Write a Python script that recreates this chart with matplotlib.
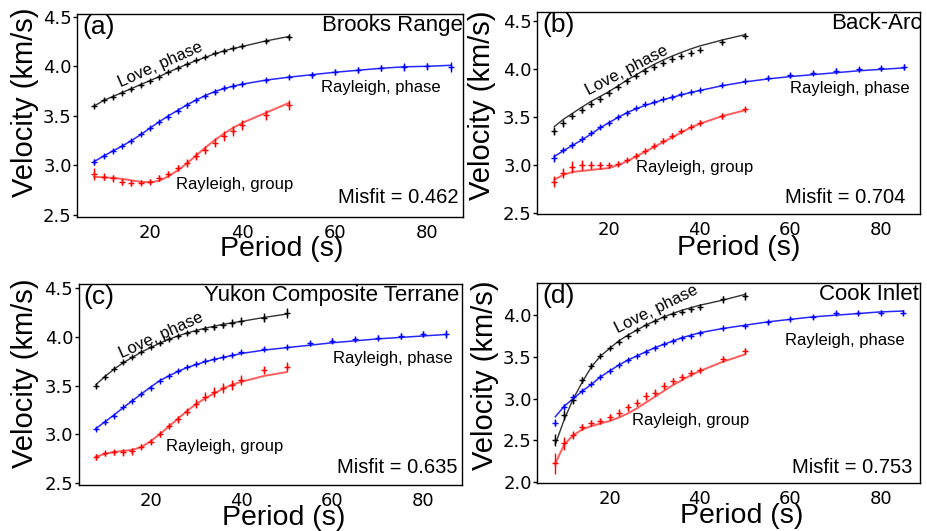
import matplotlib
matplotlib.use('Agg')
import matplotlib.pyplot as plt

# periods (s)
per_short = [8, 10, 12, 14, 16, 18, 20, 22, 24, 26, 28, 30, 32, 34, 36, 38, 40, 45, 50]
per_long = per_short + [55, 60, 65, 70, 75, 80, 85]

# ---------------- (a) Brooks Range ----------------
a_love = [3.60, 3.657, 3.69, 3.728, 3.77, 3.81, 3.85, 3.896, 3.943, 3.983, 4.023, 4.06, 4.097,
          4.13, 4.158, 4.181, 4.201, 4.258, 4.295]
a_love_err = [0.02, 0.02, 0.015, 0.015, 0.015, 0.015, 0.015, 0.015, 0.015, 0.015, 0.015, 0.015,
              0.015, 0.015, 0.015, 0.015, 0.02, 0.02, 0.03]
a_love_mod = [3.60, 3.655, 3.695, 3.735, 3.775, 3.815, 3.855, 3.895, 3.94, 3.98, 4.02, 4.057,
              4.09, 4.125, 4.155, 4.18, 4.2, 4.255, 4.30]
a_rp = [3.039, 3.096, 3.146, 3.197, 3.25, 3.314, 3.375, 3.439, 3.489, 3.55, 3.607, 3.66, 3.704,
        3.744, 3.781, 3.802, 3.825, 3.862, 3.892, 3.909, 3.946, 3.966, 3.98, 3.996, 4.0, 3.993]
a_rp_err = [0.03, 0.02, 0.02, 0.015, 0.02, 0.02, 0.02, 0.02, 0.025, 0.025, 0.025, 0.02, 0.02,
            0.025, 0.025, 0.025, 0.025, 0.02, 0.02, 0.03, 0.03, 0.03, 0.03, 0.04, 0.035, 0.05]
a_rp_mod = [3.04, 3.095, 3.145, 3.195, 3.25, 3.31, 3.375, 3.44, 3.5, 3.555, 3.61, 3.66, 3.705,
            3.745, 3.775, 3.8, 3.82, 3.86, 3.89, 3.915, 3.94, 3.96, 3.98, 3.995, 4.0, 4.01]
a_rg = [2.914, 2.888, 2.871, 2.837, 2.824, 2.827, 2.837, 2.871, 2.914, 2.972, 3.022, 3.092, 3.156,
        3.23, 3.297, 3.351, 3.408, 3.509, 3.613]
a_rg_err = [0.06, 0.035, 0.035, 0.03, 0.03, 0.025, 0.025, 0.03, 0.035, 0.03, 0.04, 0.04, 0.04,
            0.045, 0.05, 0.05, 0.05, 0.05, 0.05]
a_rg_mod = [2.885, 2.88, 2.875, 2.865, 2.85, 2.835, 2.83, 2.845, 2.89, 2.95, 3.02, 3.1, 3.18,
            3.255, 3.32, 3.38, 3.43, 3.53, 3.63]

# ---------------- (b) Back-Arc ----------------
b_love = [3.355, 3.434, 3.51, 3.573, 3.632, 3.69, 3.746, 3.808, 3.875, 3.93, 3.975, 4.02, 4.06,
          4.1, 4.135, 4.165, 4.2, 4.275, 4.345]
b_love_err = [0.04, 0.035, 0.035, 0.03, 0.03, 0.03, 0.03, 0.03, 0.03, 0.03, 0.03, 0.03, 0.03,
              0.03, 0.03, 0.03, 0.03, 0.025, 0.025]
b_love_mod = [3.40, 3.476, 3.538, 3.60, 3.66, 3.711, 3.763, 3.822, 3.884, 3.936, 3.995, 4.047,
              4.092, 4.134, 4.171, 4.206, 4.237, 4.30, 4.355]
b_rp = [3.071, 3.157, 3.209, 3.268, 3.33, 3.393, 3.441, 3.497, 3.545, 3.59, 3.635, 3.659, 3.687,
        3.711, 3.735, 3.76, 3.78, 3.829, 3.87, 3.905, 3.935, 3.957, 3.981, 3.995, 4.005, 4.02]
b_rp_err = [0.04, 0.025, 0.03, 0.03, 0.02, 0.02, 0.02, 0.02, 0.02, 0.015, 0.015, 0.015, 0.015,
            0.015, 0.015, 0.015, 0.015, 0.015, 0.015, 0.02, 0.025, 0.025, 0.025, 0.025, 0.025, 0.03]
b_rp_mod = [3.09, 3.15, 3.205, 3.26, 3.32, 3.385, 3.44, 3.495, 3.545, 3.585, 3.62, 3.65, 3.68,
            3.705, 3.73, 3.755, 3.775, 3.825, 3.865, 3.895, 3.92, 3.94, 3.96, 3.98, 3.995, 4.01]
b_rg = [2.829, 2.922, 2.984, 3.0, 3.0, 3.0, 3.0, 3.015, 3.054, 3.099, 3.147, 3.202, 3.254, 3.306,
        3.354, 3.40, 3.441, 3.514, 3.58]
b_rg_err = [0.06, 0.05, 0.06, 0.05, 0.04, 0.035, 0.025, 0.025, 0.025, 0.025, 0.03, 0.025, 0.025,
            0.025, 0.025, 0.025, 0.025, 0.03, 0.025]
b_rg_mod = [2.85, 2.90, 2.93, 2.94, 2.95, 2.96, 2.97, 3.0, 3.04, 3.09, 3.14, 3.19, 3.24, 3.29,
            3.34, 3.39, 3.43, 3.51, 3.57]

# ---------------- (c) Yukon Composite Terrane ----------------
c_love = [3.50, 3.593, 3.675, 3.74, 3.791, 3.849, 3.90, 3.935, 3.976, 4.01, 4.037, 4.061, 4.085,
          4.106, 4.123, 4.14, 4.167, 4.198, 4.243]
c_love_err = [0.025, 0.02, 0.015, 0.015, 0.015, 0.015, 0.015, 0.02, 0.02, 0.02, 0.02, 0.025,
              0.025, 0.03, 0.03, 0.04, 0.04, 0.045, 0.05]
c_love_mod = [3.51, 3.595, 3.67, 3.735, 3.79, 3.845, 3.89, 3.935, 3.975, 4.01, 4.04, 4.065, 4.09,
              4.11, 4.13, 4.145, 4.16, 4.2, 4.235]
c_rp = [3.056, 3.125, 3.193, 3.278, 3.347, 3.412, 3.48, 3.549, 3.60, 3.651, 3.696, 3.723, 3.757,
        3.771, 3.798, 3.819, 3.843, 3.877, 3.901, 3.935, 3.962, 3.976, 3.993, 4.01, 4.031, 4.031]
c_rp_err = [0.015, 0.015, 0.015, 0.015, 0.015, 0.015, 0.015, 0.015, 0.015, 0.015, 0.015, 0.015,
            0.015, 0.015, 0.015, 0.015, 0.015, 0.02, 0.02, 0.025, 0.025, 0.025, 0.025, 0.03, 0.03, 0.04]
c_rp_mod = [3.06, 3.13, 3.2, 3.275, 3.345, 3.415, 3.485, 3.55, 3.6, 3.645, 3.685, 3.715, 3.745,
            3.77, 3.79, 3.81, 3.83, 3.865, 3.89, 3.915, 3.94, 3.96, 3.98, 3.995, 4.01, 4.025]
c_rg = [2.766, 2.807, 2.814, 2.814, 2.824, 2.875, 2.926, 3.002, 3.087, 3.155, 3.234, 3.313, 3.388,
        3.432, 3.473, 3.508, 3.559, 3.661, 3.696]
c_rg_err = [0.03, 0.025, 0.03, 0.035, 0.035, 0.03, 0.025, 0.03, 0.03, 0.035, 0.04, 0.045, 0.045,
            0.05, 0.05, 0.05, 0.05, 0.045, 0.05]
c_rg_mod = [2.77, 2.80, 2.82, 2.83, 2.84, 2.87, 2.93, 3.0, 3.08, 3.16, 3.24, 3.31, 3.37, 3.42,
            3.47, 3.51, 3.54, 3.60, 3.64]

# ---------------- (d) Cook Inlet ----------------
d_love = [2.502, 2.802, 2.982, 3.222, 3.394, 3.51, 3.602, 3.682, 3.75, 3.822, 3.882, 3.934, 3.974,
          4.014, 4.042, 4.07, 4.094, 4.19, 4.23]
d_love_err = [0.07, 0.06, 0.05, 0.035, 0.03, 0.025, 0.025, 0.025, 0.025, 0.025, 0.025, 0.025,
              0.025, 0.025, 0.025, 0.03, 0.035, 0.04, 0.05]
d_love_mod = [2.45, 2.75, 3.0, 3.2, 3.38, 3.51, 3.60, 3.69, 3.76, 3.82, 3.88, 3.93, 3.98, 4.02,
              4.06, 4.09, 4.12, 4.18, 4.25]
d_rp = [2.71, 2.902, 3.014, 3.094, 3.17, 3.262, 3.334, 3.398, 3.458, 3.514, 3.558, 3.61, 3.654,
        3.694, 3.726, 3.754, 3.79, 3.842, 3.874, 3.914, 3.958, 3.982, 4.022, 4.022, 4.03, 4.03]
d_rp_err = [0.04, 0.03, 0.025, 0.02, 0.02, 0.02, 0.02, 0.02, 0.02, 0.02, 0.02, 0.02, 0.015,
            0.015, 0.015, 0.015, 0.015, 0.015, 0.02, 0.025, 0.025, 0.025, 0.025, 0.025, 0.03, 0.03]
d_rp_mod = [2.78, 2.91, 3.0, 3.09, 3.17, 3.26, 3.33, 3.40, 3.46, 3.51, 3.56, 3.61, 3.65, 3.69,
            3.73, 3.76, 3.79, 3.84, 3.88, 3.92, 3.95, 3.98, 4.0, 4.02, 4.04, 4.05]
d_rg = [2.222, 2.462, 2.562, 2.662, 2.702, 2.734, 2.782, 2.83, 2.894, 2.95, 3.03, 3.07, 3.154,
        3.21, 3.254, 3.302, 3.342, 3.474, 3.57]
d_rg_err = [0.13, 0.08, 0.05, 0.035, 0.035, 0.035, 0.035, 0.04, 0.04, 0.04, 0.05, 0.04, 0.04,
            0.04, 0.035, 0.035, 0.03, 0.035, 0.04]
d_rg_mod = [2.22, 2.45, 2.56, 2.63, 2.67, 2.70, 2.73, 2.77, 2.82, 2.88, 2.95, 3.02, 3.09, 3.16,
            3.22, 3.28, 3.33, 3.44, 3.53]

panels = [
    dict(tag='(a)', name='Brooks Range', misfit='Misfit = 0.462',
         love=(a_love, a_love_err, a_love_mod), rp=(a_rp, a_rp_err, a_rp_mod), rg=(a_rg, a_rg_err, a_rg_mod),
         pos=[0.0834, 0.5913, 0.4157, 0.3817], xlim=(4.33, 87.6), ylim=(2.48, 4.524),
         yticks=[2.5, 3.0, 3.5, 4.0, 4.5],
         love_lab=(22.3, 4.013, 24), rp_lab=(56.9, 3.745), rg_lab=(25.7, 2.76),
         mis=(0.989, 0.068), name_x=1.0, ylab=(-0.135, 0.566), xlab=(0.53, -0.158)),
    dict(tag='(b)', name='Back-Arc', misfit='Misfit = 0.704',
         love=(b_love, b_love_err, b_love_mod), rp=(b_rp, b_rp_err, b_rp_mod), rg=(b_rg, b_rg_err, b_rg_mod),
         pos=[0.5796, 0.5975, 0.4132, 0.3793], xlim=(4.26, 88.6), ylim=(2.496, 4.587),
         yticks=[2.5, 3.0, 3.5, 4.0, 4.5],
         love_lab=(23.9, 3.988, 27.5), rp_lab=(59.8, 3.746), rg_lab=(26.0, 2.932),
         mis=(0.96, 0.055), name_x=1.004, ylab=(-0.145, 0.54), xlab=(0.525, -0.17)),
    dict(tag='(c)', name='Yukon Composite Terrane', misfit='Misfit = 0.635',
         love=(c_love, c_love_err, c_love_mod), rp=(c_rp, c_rp_err, c_rp_mod), rg=(c_rg, c_rg_err, c_rg_mod),
         pos=[0.0849, 0.0866, 0.4135, 0.378], xlim=(4.2, 88.5), ylim=(2.48, 4.54),
         yticks=[2.5, 3.0, 3.5, 4.0, 4.5],
         love_lab=(22.3, 4.02, 24.5), rp_lab=(60.1, 3.73), rg_lab=(23.5, 2.834),
         mis=(0.988, 0.058), name_x=0.993, ylab=(-0.14, 0.556), xlab=(0.534, -0.166)),
    dict(tag='(d)', name='Cook Inlet', misfit='Misfit = 0.753',
         love=(d_love, d_love_err, d_love_mod), rp=(d_rp, d_rp_err, d_rp_mod), rg=(d_rg, d_rg_err, d_rg_mod),
         pos=[0.5796, 0.091, 0.4132, 0.3766], xlim=(4.02, 88.76), ylim=(1.99, 4.39),
         yticks=[2.0, 2.5, 3.0, 3.5, 4.0],
         love_lab=(30.3, 4.07, 26.3), rp_lab=(58.8, 3.642), rg_lab=(24.9, 2.682),
         mis=(0.978, 0.047), name_x=0.995, ylab=(-0.137, 0.535), xlab=(0.534, -0.166)),
]

TXT = 'Liberation Sans'
fig = plt.figure(figsize=(9.27, 5.31), dpi=100)

for p in panels:
    ax = fig.add_axes(p['pos'])
    for key, per, col, lcol, lw in [('love', per_short, 'k', '#333333', 1.0),
                                    ('rp', per_long, 'b', '#2626ff', 1.1),
                                    ('rg', per_short, 'r', '#ff5c5c', 1.4)]:
        vals, err, mod = p[key]
        ax.plot(per, mod, '-', color=lcol, lw=lw, zorder=2)
        ax.errorbar(per, vals, yerr=err, fmt='+', color=col, ms=4, mew=1.0,
                    elinewidth=1.0, capsize=0, zorder=3)

    ax.set_xlim(*p['xlim'])
    ax.set_ylim(*p['ylim'])
    ax.set_xticks([20, 40, 60, 80])
    ax.set_yticks(p['yticks'])
    ax.yaxis.set_major_formatter(matplotlib.ticker.FormatStrFormatter('%.1f'))
    ax.tick_params(axis='y', direction='out', length=3, width=1, labelsize=13, pad=1)
    ax.tick_params(axis='x', length=0, labelsize=13, pad=5)
    for lab in ax.get_xticklabels() + ax.get_yticklabels():
        lab.set_family('DejaVu Sans')
    for s in ax.spines.values():
        s.set_linewidth(1.0)

    ax.set_ylabel('Velocity (km/s)', fontsize=21, family=TXT, va='center', ha='center')
    ax.yaxis.set_label_coords(*p['ylab'])
    ax.set_xlabel('Period (s)', fontsize=20.5, family=TXT, va='center', ha='center')
    ax.xaxis.set_label_coords(*p['xlab'])

    ax.text(0.012, 0.995, p['tag'], transform=ax.transAxes, fontsize=19, family=TXT,
            ha='left', va='top')
    ax.text(p['name_x'], 0.995, p['name'], transform=ax.transAxes, fontsize=16, family=TXT,
            ha='right', va='top')
    ax.text(p['mis'][0], p['mis'][1], p['misfit'], transform=ax.transAxes, fontsize=14.5,
            family=TXT, ha='right', va='baseline')

    lx, ly, rot = p['love_lab']
    ax.text(lx, ly, 'Love, phase', fontsize=12, family=TXT, rotation=rot,
            rotation_mode='anchor', ha='center', va='center')
    ax.text(p['rp_lab'][0], p['rp_lab'][1], 'Rayleigh, phase', fontsize=12, family=TXT,
            ha='left', va='baseline')
    ax.text(p['rg_lab'][0], p['rg_lab'][1], 'Rayleigh, group', fontsize=12, family=TXT,
            ha='left', va='baseline')

fig.savefig('out.png', dpi=100)
